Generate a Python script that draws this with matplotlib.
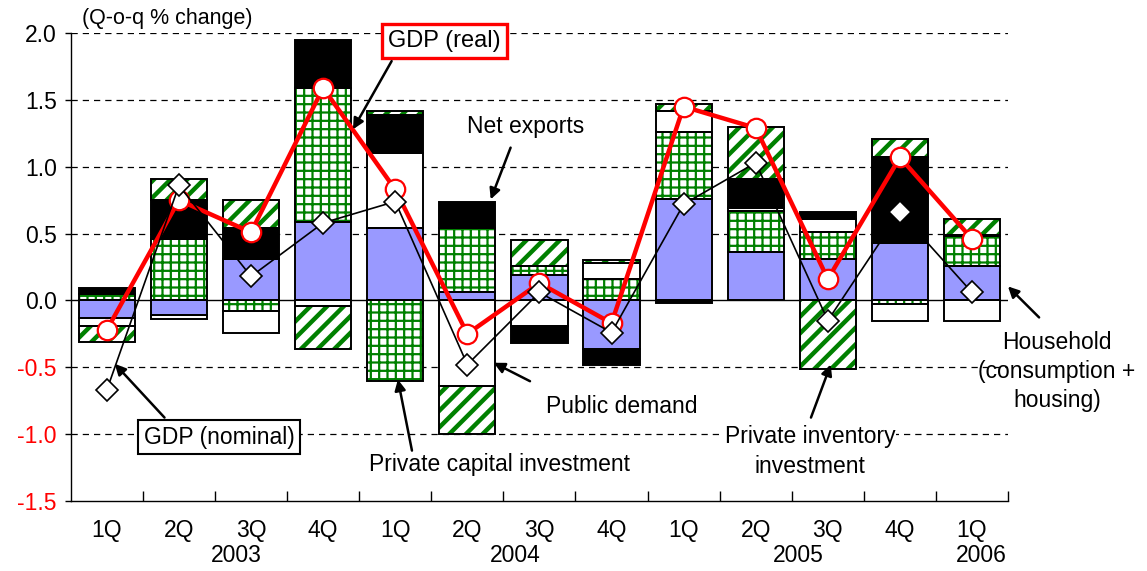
import numpy as np
import matplotlib
matplotlib.use('Agg')
import matplotlib.pyplot as plt

plt.rcParams['font.family'] = ['Liberation Sans', 'DejaVu Sans']
plt.rcParams['hatch.linewidth'] = 1.6

# Data (q-o-q % change contributions)
quarters = ['1Q', '2Q', '3Q', '4Q', '1Q', '2Q', '3Q', '4Q', '1Q', '2Q', '3Q', '4Q', '1Q']
years = ['2003', '2004', '2005', '2006']
year_pos = [1.79, 5.67, 9.59, 12.13]
household = [-0.13, -0.11, 0.31, 0.59, 0.54, 0.06, 0.19, -0.36, 0.76, 0.36, 0.31, 0.43, 0.26]
capital = [0.05, 0.46, -0.08, 1.00, -0.60, 0.48, 0.07, 0.16, 0.50, 0.31, 0.20, -0.03, 0.22]
public = [-0.06, -0.03, -0.16, -0.04, 0.56, -0.64, -0.19, 0.12, 0.16, 0.02, 0.10, -0.12, -0.15]
exports = [0.04, 0.29, 0.23, 0.36, 0.29, 0.20, -0.13, -0.12, -0.02, 0.22, 0.05, 0.64, 0.01]
inventory = [-0.12, 0.16, 0.21, -0.32, 0.03, -0.36, 0.19, 0.02, 0.05, 0.39, -0.51, 0.14, 0.12]
gdp_real = [-0.22, 0.75, 0.51, 1.59, 0.83, -0.25, 0.13, -0.17, 1.45, 1.29, 0.16, 1.07, 0.46]
gdp_nominal = [-0.67, 0.86, 0.18, 0.58, 0.74, -0.48, 0.06, -0.24, 0.72, 1.03, -0.15, 0.66, 0.06]

GREEN = '#008000'
BLUE = '#9999FF'
FS = 16.5
# (values, face, hatch colour, hatch)
series = [
    (household, BLUE, BLUE, None),
    (capital, 'white', GREEN, '++'),
    (public, 'white', 'white', None),
    (exports, 'black', 'black', None),
    (inventory, 'white', GREEN, '//'),
]

fig = plt.figure(figsize=(11.47, 5.71), dpi=100)
ax = fig.add_axes([0.0617, 0.1226, 0.8172, 0.8195])

x = np.arange(len(quarters))
width = 0.78
pos_bot = np.zeros(len(x))
neg_bot = np.zeros(len(x))
for vals, face, hcol, hatch in series:
    v = np.array(vals)
    bottom = np.where(v >= 0, pos_bot, neg_bot)
    bars = ax.bar(x, v, width, bottom=bottom, color=face, edgecolor=hcol, linewidth=0,
                  hatch=hatch, zorder=2)
    if hatch == '//':
        for b in bars:
            if hasattr(b, 'set_hatch_linewidth'):
                b.set_hatch_linewidth(3.2)
    ax.bar(x, v, width, bottom=bottom, facecolor='none', edgecolor='black',
           linewidth=1.4, zorder=2.5)
    pos_bot += np.where(v >= 0, v, 0)
    neg_bot += np.where(v < 0, v, 0)

ax.plot(x, gdp_real, color='red', lw=3.2, marker='o', ms=14, mfc='white', mec='red',
        mew=1.6, zorder=4)
ax.plot(x, gdp_nominal, color='black', lw=1.2, marker='D', ms=11.5, mfc='white', mec='black',
        mew=1.2, zorder=5)

# grid and axes
for yv in [2.0, 1.5, 1.0, 0.5, -0.5, -1.0]:
    ax.axhline(yv, color='black', lw=0.9, ls=(0, (5, 4)), zorder=1)
ax.axhline(0, color='black', lw=1.0, zorder=1.5)

ax.set_xlim(-0.5, 12.5)
ax.set_ylim(-1.5, 2.0)
yt = np.arange(-1.5, 2.01, 0.5)
ax.set_yticks(yt)
ax.set_yticklabels(['{:.1f}'.format(v) for v in yt], fontsize=FS)
for lab, v in zip(ax.get_yticklabels(), yt):
    if v < 0:
        lab.set_color('red')
ax.tick_params(axis='y', direction='out', length=4, width=1, pad=6)

ax.set_xticks(np.arange(0.5, 12.6, 1.0))
ax.set_xticklabels([])
ax.tick_params(axis='x', which='major', direction='in', length=7, width=1)
ax.set_xticks(x, minor=True)
ax.set_xticklabels(quarters, minor=True, fontsize=FS)
ax.tick_params(axis='x', which='minor', length=0, pad=13)
for xp, yr in zip(year_pos, years):
    ax.text(xp, -1.905, yr, ha='center', va='center', fontsize=FS, clip_on=False)

for s in ['top', 'right']:
    ax.spines[s].set_visible(False)
ax.spines['left'].set_linewidth(1)
ax.spines['bottom'].set_linewidth(1)

fig.text(0.0715, 0.968, '(Q-o-q % change)', fontsize=15.5, ha='left', va='center')

# annotations
arrow = dict(arrowstyle='-|>', color='black', lw=1.8, mutation_scale=16, shrinkA=0, shrinkB=0)
ax.text(4.683, 1.939, 'GDP (real)', fontsize=17, ha='center', va='center', zorder=6,
        bbox=dict(boxstyle='square,pad=0.25', fc='white', ec='red', lw=2.4))
ax.annotate('', xy=(3.414, 1.28), xytext=(3.95, 1.79), arrowprops=arrow, zorder=6)

ax.text(5.813, 1.30, 'Net exports', fontsize=FS, ha='center', va='center')
ax.annotate('', xy=(5.324, 0.756), xytext=(5.60, 1.143), arrowprops=arrow)

ax.text(1.555, -1.022, 'GDP (nominal)', fontsize=FS, ha='center', va='center', zorder=6,
        bbox=dict(boxstyle='square,pad=0.25', fc='white', ec='black', lw=1.5))
ax.annotate('', xy=(0.110, -0.474), xytext=(0.80, -0.876), arrowprops=arrow)

ax.text(5.453, -1.228, 'Private capital investment', fontsize=FS, ha='center', va='center',
        zorder=6, bbox=dict(boxstyle='square,pad=0.05', fc='white', ec='none'))
ax.annotate('', xy=(4.037, -0.591), xytext=(4.232, -1.123), arrowprops=arrow)

ax.text(7.145, -0.793, 'Public demand', fontsize=FS, ha='center', va='center')
ax.annotate('', xy=(5.366, -0.466), xytext=(5.869, -0.604), arrowprops=arrow)

ax.text(9.752, -1.130, 'Private inventory\ninvestment', fontsize=FS, ha='center', va='center',
        linespacing=1.35, zorder=6, bbox=dict(boxstyle='square,pad=0.05', fc='white', ec='none'))
ax.annotate('', xy=(10.04, -0.479), xytext=(9.766, -0.876), arrowprops=arrow)

ax.text(13.178, -0.531, 'Household\n(consumption +\nhousing)', fontsize=FS, ha='center',
        va='center', linespacing=1.35, clip_on=False)
ax.annotate('', xy=(12.498, 0.105), xytext=(12.93, -0.127), arrowprops=arrow,
            annotation_clip=False)

fig.savefig('out.png', dpi=100)
